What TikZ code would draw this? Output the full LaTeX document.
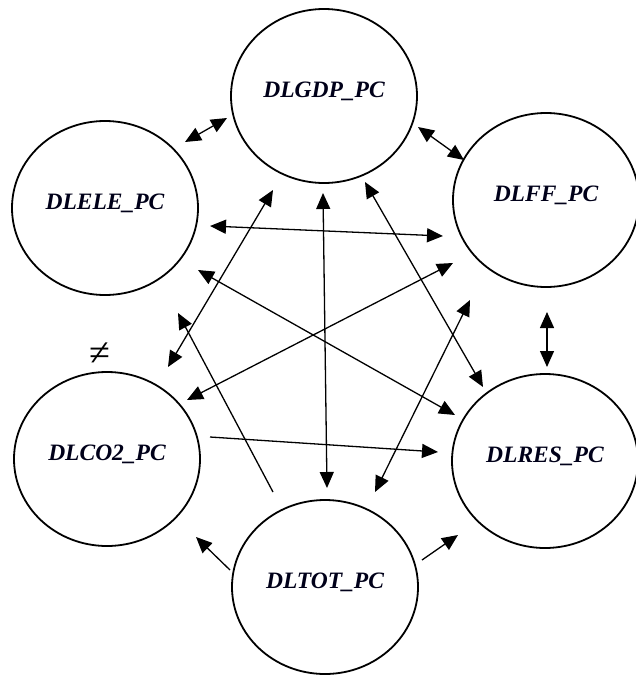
\documentclass[tikz,border=0pt]{standalone}
\usepackage{fontspec}
\setmainfont{Liberation Serif}
\usetikzlibrary{shapes.geometric,arrows.meta}
\begin{document}
\begin{tikzpicture}[x=1pt,y=-1pt,
  var/.style={draw,line width=1.8pt,ellipse,minimum width=186pt,minimum height=174pt,inner sep=0pt},
  lab/.style={font=\fontsize{23.5}{26}\selectfont\bfseries\itshape,text=black!90!blue},
  link/.style={line width=1.3pt,-{Triangle[length=16pt,width=14pt]}},
  both/.style={line width=1.3pt,{Triangle[length=16pt,width=14pt]}-{Triangle[length=16pt,width=14pt]}}]
\useasboundingbox (0,0) rectangle (636,675);

% variables
\node[var,label={[lab,yshift=5pt]center:DLGDP\_PC}] (gdp) at (324,96) {};
\node[var,label={[lab,yshift=5pt]center:DLELE\_PC}] (ele) at (105,208) {};
\node[var,label={[lab,yshift=5pt]center:DLFF\_PC}] (ff) at (546,200) {};
\node[var,label={[lab,yshift=5pt]center:DLCO2\_PC}] (co2) at (107,459) {};
\node[var,label={[lab,yshift=5pt]center:DLRES\_PC}] (res) at (545,461) {};
\node[var,label={[lab,yshift=5pt]center:DLTOT\_PC}] (tot) at (325,587) {};

\node[font=\fontsize{38}{40}\selectfont,inner sep=0pt] (ne) at (100,354) {≠};

% connector end points
\coordinate (a1) at (185,142);  \coordinate (b1) at (227,118);
\coordinate (a2) at (418,127);  \coordinate (b2) at (464,160);
\coordinate (a3) at (547,312);  \coordinate (b3) at (547,367);
\coordinate (a4) at (210,226);  \coordinate (b4) at (443,236);
\coordinate (a5) at (273,190);  \coordinate (b5) at (168,367);
\coordinate (a6) at (323,193);  \coordinate (b6) at (327,488);
\coordinate (a7) at (365,182);  \coordinate (b7) at (483,387);
\coordinate (a8) at (198,270);  \coordinate (b8) at (455,415);
\coordinate (a9) at (187,400);  \coordinate (b9) at (453,263);
\coordinate (a10) at (273,492); \coordinate (b10) at (178,313);
\coordinate (a11) at (375,492); \coordinate (b11) at (470,300);
\coordinate (a12) at (210,437); \coordinate (b12) at (438,452);
\coordinate (a13) at (230,570); \coordinate (b13) at (196,537);
\coordinate (a14) at (422,560); \coordinate (b14) at (458,535);

% links
\draw[both] (a1) -- (b1);
\draw[both] (a2) -- (b2);
\draw[both] (a3) -- (b3);
\draw[both] (a4) -- (b4);
\draw[both] (a5) -- (b5);
\draw[both] (a6) -- (b6);
\draw[both] (a7) -- (b7);
\draw[both] (a8) -- (b8);
\draw[both] (a9) -- (b9);
\draw[link] (a10) -- (b10);
\draw[both] (a11) -- (b11);
\draw[link] (a12) -- (b12);
\draw[link] (a13) -- (b13);
\draw[link] (a14) -- (b14);
\end{tikzpicture}
\end{document}
